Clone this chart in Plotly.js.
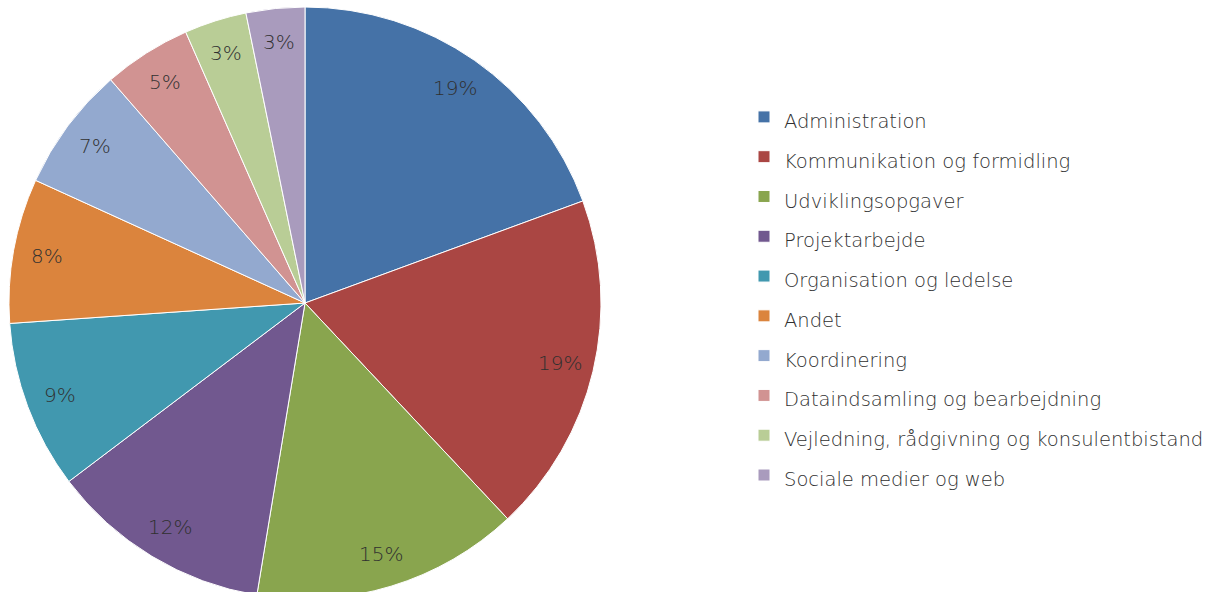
<!DOCTYPE html>
<html>
<head>
<meta charset="utf-8">
<script src="https://cdn.plot.ly/plotly-3.0.1.min.js"></script>
<style>
html,body{margin:0;padding:0;overflow:hidden;background:#fff;}
#chart{width:1221px;height:606px;}
</style>
</head>
<body>
<div id="chart"></div>
<script>
const categories = [
  "Administration",
  "Kommunikation og formidling",
  "Udviklingsopgaver",
  "Projektarbejde",
  "Organisation og ledelse",
  "Andet",
  "Koordinering",
  "Dataindsamling og bearbejdning",
  "Vejledning, rådgivning og konsulentbistand",
  "Sociale medier og web"
];
const shares = [19.4, 18.6, 14.6, 12.1, 9.2, 7.9, 6.8, 4.8, 3.4, 3.2];
const colors = ["#4572A7","#AA4643","#89A54E","#71588F","#4198AF","#DB843D","#93A9CF","#D19392","#B9CD96","#A99BBD"];

const W = 1221, H = 606;
const FONT = "DejaVu Sans, sans-serif";
const TXT = "#303030";

// pie geometry (pixels)
const PX0 = 9, PX1 = 601;
const CX = (PX0 + PX1) / 2, CY = H / 2, R = Math.min(PX1 - PX0, H) / 2;

const trace = {
  type: "pie",
  labels: categories.map(c => '<span style="font-size:19.5px">' + c + '</span>'),
  values: shares,
  sort: false,
  direction: "clockwise",
  rotation: 0,
  marker: {colors: colors, line: {color: "#ffffff", width: 1}},
  textinfo: "none",
  domain: {x: [PX0/W, PX1/W], y: [0, 1]},
  hoverinfo: "label+percent"
};

// percentage labels placed along each slice's mid-angle (derived from the data)
const total = shares.reduce((a, b) => a + b, 0);
let cum = 0;
const annotations = shares.map(v => {
  const mid = (cum + v / 2) / total * 2 * Math.PI;
  cum += v;
  const rr = 0.885 * R;
  return {
    xref: "paper", yref: "paper",
    x: (CX + rr * Math.sin(mid)) / W,
    y: (H - CY + rr * Math.cos(mid)) / H,
    xanchor: "center", yanchor: "middle",
    text: Math.round(v / total * 100) + "%",
    showarrow: false,
    font: {family: FONT, size: 20, color: TXT, weight: 200}
  };
});

const layout = {
  width: W, height: H,
  margin: {l: 0, r: 0, t: 0, b: 0},
  paper_bgcolor: "#ffffff",
  font: {family: FONT, color: TXT},
  showlegend: true,
  annotations: annotations,
  legend: {
    x: 744/W, xanchor: "left",
    y: (H - 92)/H, yanchor: "top",
    font: {family: FONT, size: 28.3, color: TXT, weight: 200},
    bgcolor: "rgba(0,0,0,0)"
  }
};

Plotly.newPlot("chart", [trace], layout, {displayModeBar: false, staticPlot: true});
</script>
</body>
</html>
